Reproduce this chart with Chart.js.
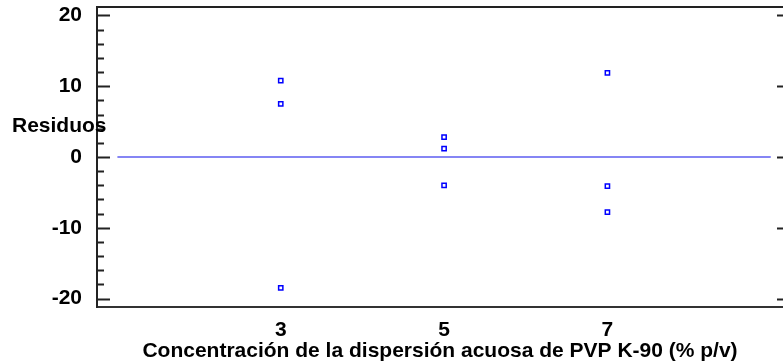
<!DOCTYPE html>
<html>
<head>
<meta charset="utf-8">
<script src="https://cdn.jsdelivr.net/npm/chart.js@4/dist/chart.umd.min.js"></script>
<style>
  html, body { margin: 0; padding: 0; background: #fff; }
  #wrap { width: 783px; height: 364px; }
</style>
</head>
<body>
<div id="wrap"><canvas id="residuosChart"></canvas></div>
<script>
// residuos por concentración
const concentraciones = [3, 3, 3, 5, 5, 5, 7, 7, 7];
const residuos = [10.8, 7.5, -18.5, 2.8, 1.2, -4.0, 11.9, -4.1, -7.8];

// recta de referencia en cero
const lineaX = [1, 9];
const lineaY = [0, 0];

const ticksX = [3, 5, 7];
const ticksY = [-20, -10, 0, 10, 20];
const ticksMenores = [-18, -16, -14, -12, -8, -6, -4, -2, 2, 4, 6, 8, 12, 14, 16, 18];

const fuente = { family: 'Liberation Sans, Arial, sans-serif', size: 21, weight: 'bold' };

// ejes: marcas hacia dentro, borde superior y etiqueta horizontal
const marcas = {
    id: 'marcas',
    afterDraw(chart) {
        const ctx = chart.ctx;
        const area = chart.chartArea;
        const y = chart.scales.y;
        ctx.save();
        ctx.strokeStyle = '#222';
        ctx.lineWidth = 2;
        ctx.beginPath();
        ctx.moveTo(area.left - 1, area.top);
        ctx.lineTo(area.right, area.top);
        ticksY.forEach(v => {
            const p = Math.round(y.getPixelForValue(v)) + 0.5;
            ctx.moveTo(area.left, p);
            ctx.lineTo(area.left + 13, p);
            ctx.moveTo(area.right - 6, p);
            ctx.lineTo(area.right, p);
        });
        ticksMenores.forEach(v => {
            const p = Math.round(y.getPixelForValue(v)) + 0.5;
            ctx.moveTo(area.left, p);
            ctx.lineTo(area.left + 7, p);
        });
        ctx.stroke();

        ctx.fillStyle = '#000';
        ctx.font = 'bold 21px "Liberation Sans", Arial, sans-serif';
        ctx.textAlign = 'left';
        ctx.textBaseline = 'middle';
        ctx.fillText('Residuos', 12, 126);
        ctx.restore();
    }
};

new Chart(document.getElementById('residuosChart'), {
    type: 'scatter',
    data: {
        datasets: [{
            label: 'Residuos',
            data: concentraciones.map((c, i) => ({ x: c, y: residuos[i] })),
            pointStyle: 'rect',
            pointRadius: 3,
            borderWidth: 1.5,
            borderColor: '#0000ff',
            backgroundColor: '#ffffff'
        }, {
            type: 'line',
            label: 'Cero',
            data: lineaX.map((c, i) => ({ x: c, y: lineaY[i] })),
            borderColor: '#5c5cf0',
            borderWidth: 1.5,
            pointRadius: 0
        }]
    },
    options: {
        responsive: true,
        maintainAspectRatio: false,
        animation: false,
        layout: { autoPadding: false, padding: { top: 7, right: 0, left: 0, bottom: 0 } },
        plugins: {
            legend: { display: false },
            tooltip: { enabled: false }
        },
        scales: {
            x: {
                type: 'linear',
                min: 0.75,
                max: 9.15,
                afterBuildTicks: axis => { axis.ticks = ticksX.map(v => ({ value: v })); },
                afterFit: axis => {
                    axis.height = 57;
                    axis.paddingLeft = 0;
                    axis.paddingRight = 0;
                },
                grid: { display: false, drawTicks: false },
                border: { display: true, color: '#333', width: 2 },
                ticks: { color: '#000', font: fuente, padding: 11, maxRotation: 0 },
                title: {
                    display: true,
                    text: 'Concentración de la dispersión acuosa de PVP K-90 (% p/v)',
                    color: '#000',
                    font: fuente,
                    padding: { top: -8, bottom: 0 }
                }
            },
            y: {
                min: -21.2,
                max: 21.2,
                afterBuildTicks: axis => { axis.ticks = ticksY.map(v => ({ value: v })); },
                afterFit: axis => {
                    axis.width = 97;
                    axis.paddingTop = 0;
                    axis.paddingBottom = 0;
                },
                grid: { display: false, drawTicks: false },
                border: { display: true, color: '#222', width: 2 },
                ticks: { color: '#000', font: fuente, padding: 15 }
            }
        }
    },
    plugins: [marcas]
});
</script>
</body>
</html>
